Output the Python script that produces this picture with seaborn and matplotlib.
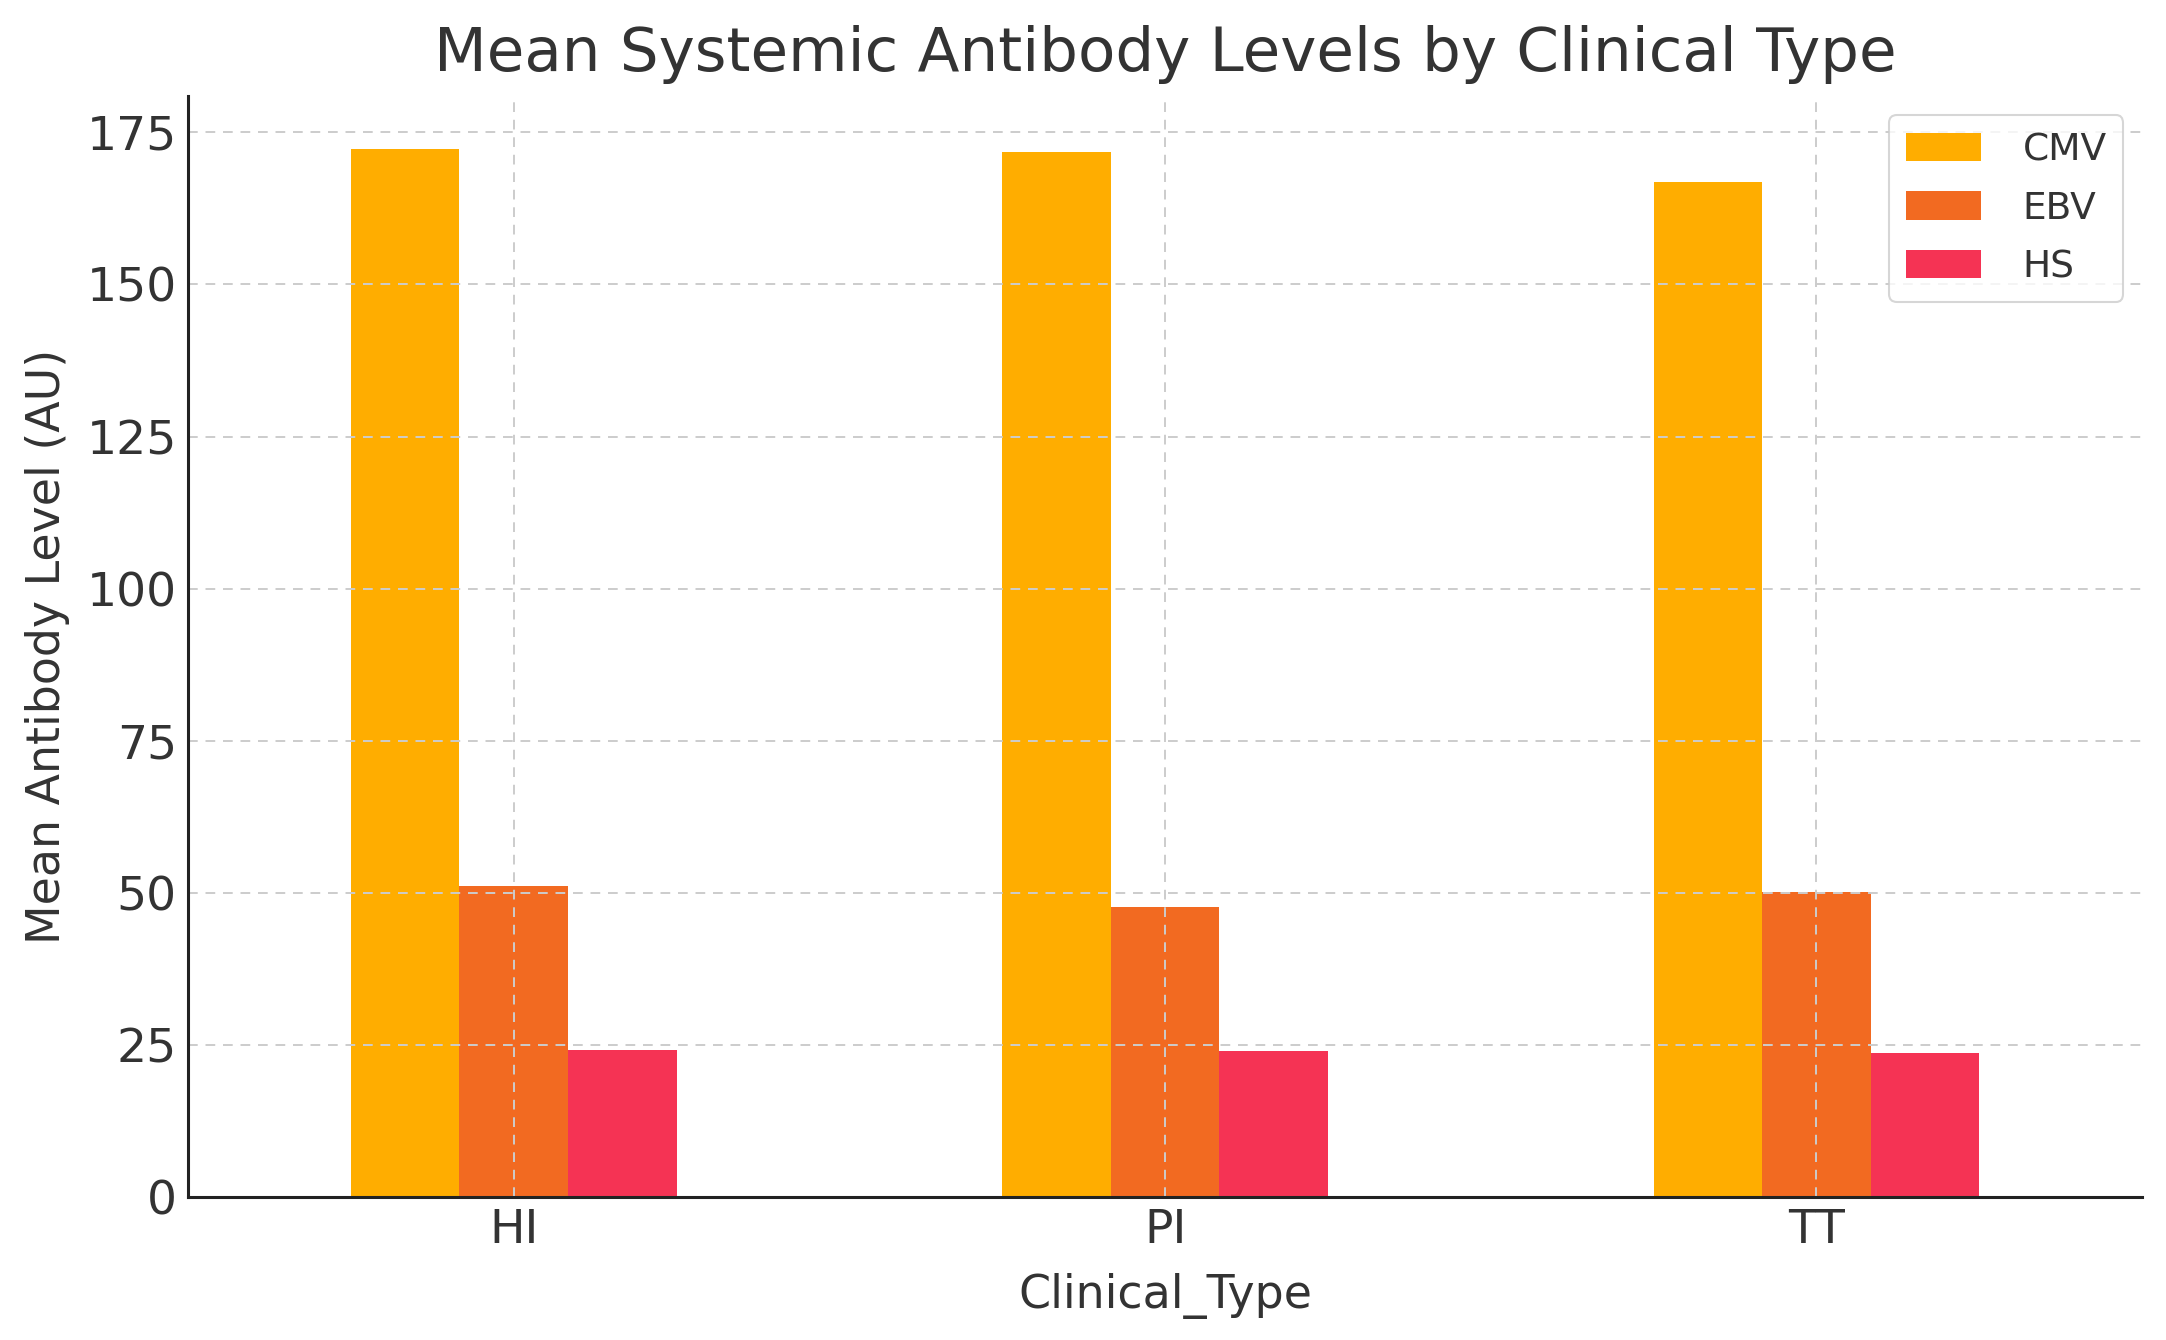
import matplotlib
matplotlib.use("Agg")
import matplotlib.pyplot as plt
import seaborn as sns
import pandas as pd

clinical_types = ["HI", "PI", "TT"]
viruses = ["CMV", "EBV", "HS"]
cmv_values = [172.3, 171.8, 166.8]
ebv_values = [51.2, 47.6, 50.2]
hs_values = [24.1, 24.0, 23.7]
colors = ["#FFAD00", "#F26A21", "#F53354"]

rows = []
for v, vals in zip(viruses, [cmv_values, ebv_values, hs_values]):
    for c, val in zip(clinical_types, vals):
        rows.append({"Clinical_Type": c, "Virus": v, "Level": val})
df = pd.DataFrame(rows)

sns.set_theme(style="white")
plt.rcParams['font.family'] = ['DejaVu Sans']
text_color = "#333333"

fig = plt.figure(figsize=(21.66, 13.4), dpi=100)
ax = fig.add_axes([0.0868, 0.1067, 0.9022, 0.8213])

sns.barplot(data=df, x="Clinical_Type", y="Level", hue="Virus",
            order=clinical_types, hue_order=viruses, palette=colors,
            width=0.5, gap=0, saturation=1, errorbar=None, ax=ax,
            edgecolor="none", linewidth=0)

ax.set_xlim(-0.5, 2.5)
ax.set_ylim(0, 180.9)
ax.set_yticks([0, 25, 50, 75, 100, 125, 150, 175])
ax.grid(True, linestyle=(0, (5, 4)), color="#cccccc", linewidth=1.4)
ax.set_axisbelow(False)
for b in ax.patches:
    b.set_zorder(1)
for gl in ax.get_xgridlines() + ax.get_ygridlines():
    gl.set_zorder(2)

for s in ["top", "right"]:
    ax.spines[s].set_visible(False)
for s in ["left", "bottom"]:
    ax.spines[s].set_color("#222222")
    ax.spines[s].set_linewidth(2.2)
    ax.spines[s].set_zorder(3)

ax.tick_params(axis="both", direction="in", length=10, width=2, color="#222222",
               labelsize=34, labelcolor=text_color, pad=8)

ax.set_title("Mean Systemic Antibody Levels by Clinical Type", fontsize=44,
             color=text_color, pad=18)
ax.set_xlabel("Clinical_Type", fontsize=33, color=text_color, labelpad=14)
ax.set_ylabel("Mean Antibody Level (AU)", fontsize=33, color=text_color, labelpad=12)

leg = ax.legend(loc="upper right", fontsize=27, frameon=True, fancybox=True,
                handlelength=2.0, handleheight=0.8, borderpad=0.45,
                labelspacing=0.6, handletextpad=1.1, title=None,
                borderaxespad=0.5)
leg.get_frame().set_edgecolor("#cccccc")
leg.get_frame().set_linewidth(1.5)
for t in leg.get_texts():
    t.set_color(text_color)

fig.savefig("out.png", dpi=100)
